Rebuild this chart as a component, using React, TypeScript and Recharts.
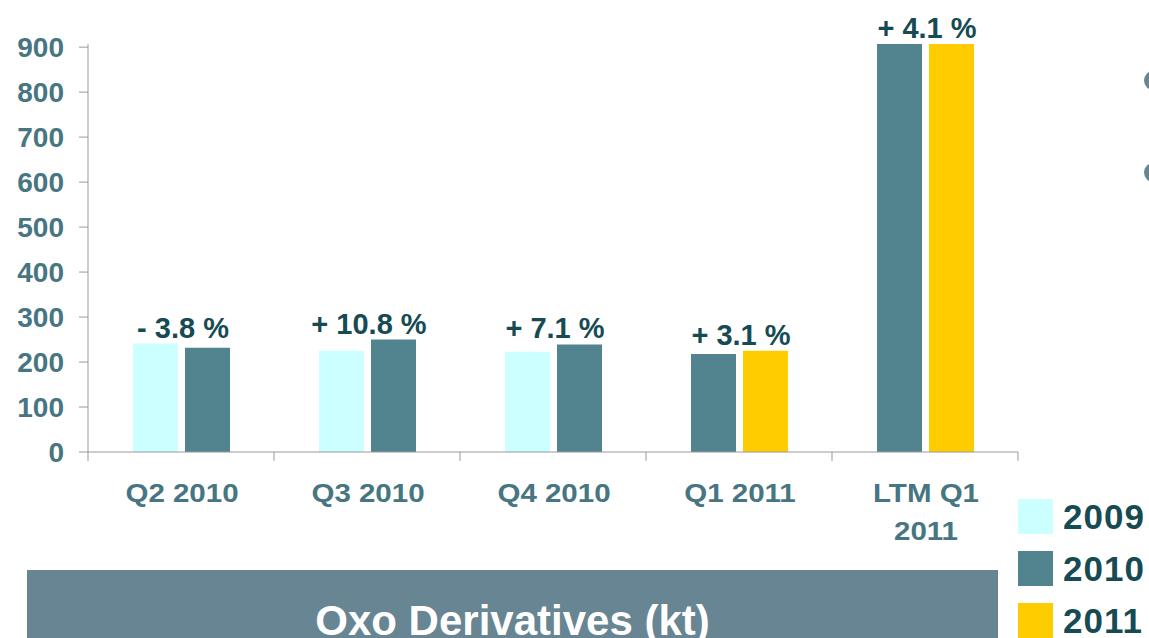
import { BarChart, Bar, XAxis, YAxis, Cell, LabelList } from "recharts";

// categories and values
const categories = ["Q2 2010", "Q3 2010", "Q4 2010", "Q1 2011", "LTM Q1 2011"];
// left bar of each pair (2009 for the quarters of 2010, 2010 for the 2011 ones)
const leftValues = [241, 225, 223, 218, 907];
// right bar of each pair
const rightValues = [232, 250, 239, 225, 907];
const leftYears = ["2009", "2009", "2009", "2010", "2010"];
const rightYears = ["2010", "2010", "2010", "2011", "2011"];
const growthLabels = ["- 3.8 %", "+ 10.8 %", "+ 7.1 %", "+ 3.1 %", "+ 4.1 %"];
const yTicks = [0, 100, 200, 300, 400, 500, 600, 700, 800, 900];
const legendYears = ["2009", "2010", "2011"];

const yearColors: Record<string, string> = {
  "2009": "#ccffff",
  "2010": "#528490",
  "2011": "#ffcc00",
};

const data = categories.map((name, i) => ({
  name,
  left: leftValues[i],
  right: rightValues[i],
}));

const FONT = "'Liberation Sans', Arial, sans-serif";
const TICK_COLOR = "#477581";
const LABEL_COLOR = "#164b54";

const wrap = (s: string, max = 8) => {
  const words = s.split(" ");
  const lines: string[] = [];
  let cur = "";
  words.forEach((w) => {
    const next = cur ? cur + " " + w : w;
    if (next.length > max && cur) {
      lines.push(cur);
      cur = w;
    } else cur = next;
  });
  if (cur) lines.push(cur);
  return lines;
};

const CategoryTick = (props: any) => {
  const { x, y, payload, index } = props;
  const band = 186;
  const lines = wrap(String(payload.value));
  return (
    <g>
      <line x1={x - band / 2} x2={x - band / 2} y1={y - 9} y2={y} stroke="#999" />
      {index === categories.length - 1 && (
        <line x1={x + band / 2} x2={x + band / 2} y1={y - 9} y2={y} stroke="#999" />
      )}
      {lines.map((l, i) => (
        // the slide's axis labels are stretched sideways
        <g key={i} transform={`translate(${x + 1},${y + 41 + i * 38}) scale(1.18,1)`}>
          <text
            x={0}
            y={0}
            textAnchor="middle"
            fill={TICK_COLOR}
            fontSize={25}
            fontWeight="bold"
            fontFamily={FONT}
          >
            {l}
          </text>
        </g>
      ))}
    </g>
  );
};

const GrowthLabel = (props: any) => {
  const { x, y, height, value, index } = props;
  const ppu = height / value;
  const otherTop = y + height - leftValues[index] * ppu;
  const top = Math.min(y, otherTop);
  return (
    <text
      x={x - 2}
      y={top - 6}
      textAnchor="middle"
      fill={LABEL_COLOR}
      fontSize={29}
      fontWeight="bold"
      fontFamily={FONT}
    >
      {growthLabels[index]}
    </text>
  );
};

export default function App() {
  return (
    <div
      style={{
        position: "absolute",
        top: 0,
        left: 0,
        width: 1149,
        height: 638,
        overflow: "hidden",
        background: "#fff",
        fontFamily: FONT,
      }}
    >
      <BarChart
        width={1149}
        height={638}
        data={data}
        margin={{ top: 44, right: 131, left: 0, bottom: 86 }}
        barSize={45}
        barGap={7}
      >
        <XAxis
          dataKey="name"
          height={100}
          interval={0}
          tickLine={false}
          tickSize={9}
          tickMargin={0}
          axisLine={{ stroke: "#999" }}
          tick={<CategoryTick />}
        />
        <YAxis
          width={88}
          domain={[0, 907]}
          ticks={yTicks}
          interval={0}
          tickSize={9}
          tickMargin={15}
          axisLine={{ stroke: "#999" }}
          tickLine={{ stroke: "#999" }}
          tick={{
            fill: TICK_COLOR,
            fontSize: 28,
            fontWeight: "bold",
            fontFamily: FONT,
          }}
        />
        <Bar dataKey="left" isAnimationActive={false}>
          {leftYears.map((yr, i) => (
            <Cell key={i} fill={yearColors[yr]} />
          ))}
        </Bar>
        <Bar dataKey="right" isAnimationActive={false}>
          {rightYears.map((yr, i) => (
            <Cell key={i} fill={yearColors[yr]} />
          ))}
          <LabelList dataKey="right" content={<GrowthLabel />} />
        </Bar>
      </BarChart>

      {/* partially visible bullets at the right edge */}
      <div style={{ position: "absolute", left: 1144, top: 71, width: 19, height: 19, borderRadius: "50%", background: "#678593" }} />
      <div style={{ position: "absolute", left: 1144, top: 163, width: 19, height: 19, borderRadius: "50%", background: "#678593" }} />

      {/* legend */}
      {legendYears.map((yr, i) => (
        <div key={yr} style={{ position: "absolute", left: 1018, top: 499 + i * 52, height: 35, display: "flex", alignItems: "center" }}>
          <div style={{ width: 35, height: 35, background: yearColors[yr] }} />
          <span style={{ marginLeft: 10, fontSize: 35, fontWeight: "bold", color: LABEL_COLOR, letterSpacing: 1, lineHeight: "35px" }}>
            {yr}
          </span>
        </div>
      ))}

      {/* title banner */}
      <div
        style={{
          position: "absolute",
          left: 27,
          top: 570,
          width: 971,
          height: 80,
          background: "#678593",
          color: "#fff",
          textAlign: "center",
        }}
      >
        <div
          style={{
            position: "absolute",
            left: 0,
            right: 0,
            top: 27,
            fontFamily: FONT,
            fontSize: 42,
            fontWeight: "bold",
            lineHeight: "48px",
          }}
        >
          Oxo Derivatives (kt)
        </div>
      </div>
    </div>
  );
}
